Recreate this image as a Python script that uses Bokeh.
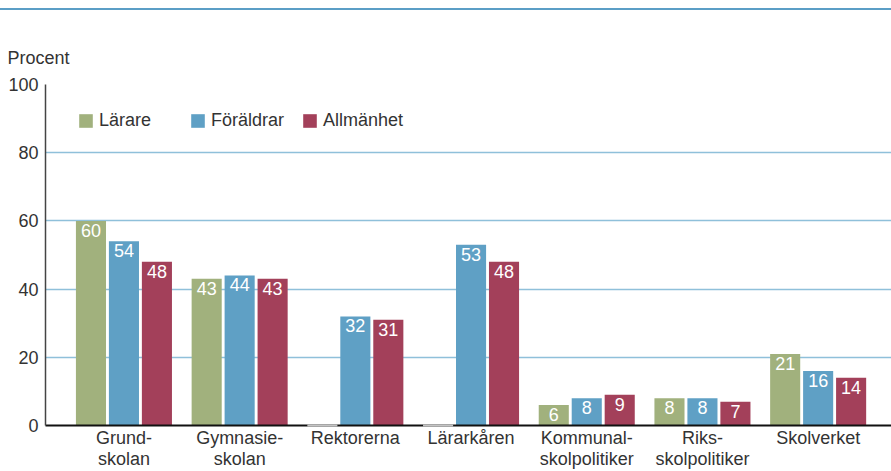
from bokeh.plotting import figure
from bokeh.models import (ColumnDataSource, FixedTicker, Legend, LegendItem, Div)
from bokeh.transform import dodge
from bokeh.layouts import column
from bokeh.core.properties import value
from bokeh.embed import file_html
from bokeh.resources import INLINE

categories = ["Grund-\nskolan", "Gymnasie-\nskolan", "Rektorerna", "Lärarkåren",
              "Kommunal-\nskolpolitiker", "Riks-\nskolpolitiker", "Skolverket"]
series_names = ["Lärare", "Föräldrar", "Allmänhet"]
larare = [60, 43, 0, 0, 6, 8, 21]
foraldrar = [54, 44, 32, 53, 8, 8, 16]
allmanhet = [48, 43, 31, 48, 9, 7, 14]
y_ticks = [0, 20, 40, 60, 80, 100]

colors = ["#a1b17d", "#5fa0c5", "#a3405a"]
FONT = "Liberation Sans"
FS = "18px"
TXT = "#333333"

idx = list(range(len(categories)))
series = [larare, foraldrar, allmanhet]
offsets = [-0.285, 0.0, 0.285]
bw = 0.26

p = figure(width=891, height=461, x_range=(-0.678, 6.634), y_range=(0, 100),
           output_backend="svg", toolbar_location=None,
           min_border_left=45, min_border_right=0, min_border_top=74, min_border_bottom=46)
p.outline_line_color = None
p.background_fill_color = "white"
p.border_fill_color = "white"

items = []
for vals, off, col, name in zip(series, offsets, colors, series_names):
    src = ColumnDataSource(dict(x=[i for i, v in zip(idx, vals) if v > 0],
                                top=[v for v in vals if v > 0],
                                lab=[str(v) for v in vals if v > 0]))
    r = p.vbar(x=dodge("x", off), top="top", width=bw, source=src,
               fill_color=col, line_color=None)
    items.append(LegendItem(label=name, renderers=[r]))
    p.text(x=dodge("x", off), y="top", text="lab", source=src,
           text_color="white", text_font=value(FONT), text_font_size=FS,
           text_align="center", text_baseline="top", y_offset=3)
    zsrc = ColumnDataSource(dict(x=[i for i, v in zip(idx, vals) if v == 0],
                                 y=[v for v in vals if v == 0]))
    p.segment(x0=dodge("x", off - bw / 2), x1=dodge("x", off + bw / 2),
              y0="y", y1="y", source=zsrc, line_color="#c4c4c4", line_width=2,
              level="overlay")

legend = Legend(items=items, orientation="horizontal", location=(32, 294),
                border_line_color=None, background_fill_alpha=0, padding=0, margin=0,
                glyph_width=17, glyph_height=17, label_standoff=5, label_width=90,
                spacing=0, label_text_font=FONT, label_text_font_size=FS,
                label_text_color=TXT)
p.add_layout(legend)

# y axis
p.yaxis.ticker = FixedTicker(ticks=y_ticks)
p.yaxis.axis_line_color = "#444444"
p.yaxis.axis_line_width = 1.5
p.yaxis.major_tick_line_color = None
p.yaxis.minor_tick_line_color = None
p.yaxis.major_tick_out = 0
p.yaxis.major_tick_in = 0
p.yaxis.major_label_text_font = FONT
p.yaxis.major_label_text_font_size = FS
p.yaxis.major_label_text_color = TXT
p.yaxis.major_label_standoff = 7

# x axis
p.xaxis.ticker = FixedTicker(ticks=idx)
p.xaxis.major_label_overrides = {i: c for i, c in zip(idx, categories)}
p.xaxis.axis_line_color = "#111111"
p.xaxis.axis_line_width = 2
p.xaxis.major_tick_line_color = None
p.xaxis.minor_tick_line_color = None
p.xaxis.major_tick_out = 0
p.xaxis.major_tick_in = 0
p.xaxis.major_label_text_font = FONT
p.xaxis.major_label_text_font_size = FS
p.xaxis.major_label_text_line_height = 1.05
p.xaxis.major_label_text_color = TXT
p.xaxis.major_label_standoff = 2

p.xgrid.grid_line_color = None
p.ygrid.grid_line_color = "#8fc0da"
p.ygrid.grid_line_width = 1.5

p.title.text = "Procent"
p.title.text_font = FONT
p.title.text_font_size = FS
p.title.text_font_style = "normal"
p.title.text_color = TXT
p.title.align = "left"
p.title.offset = -38
p.title.standoff = 34

topline = Div(text="", width=891, height=2, margin=(8, 0, 0, 0),
              styles={"background-color": "#5b9ec6"})

layout = column(topline, p, spacing=0)
open("out.html", "w").write(file_html(layout, INLINE))
